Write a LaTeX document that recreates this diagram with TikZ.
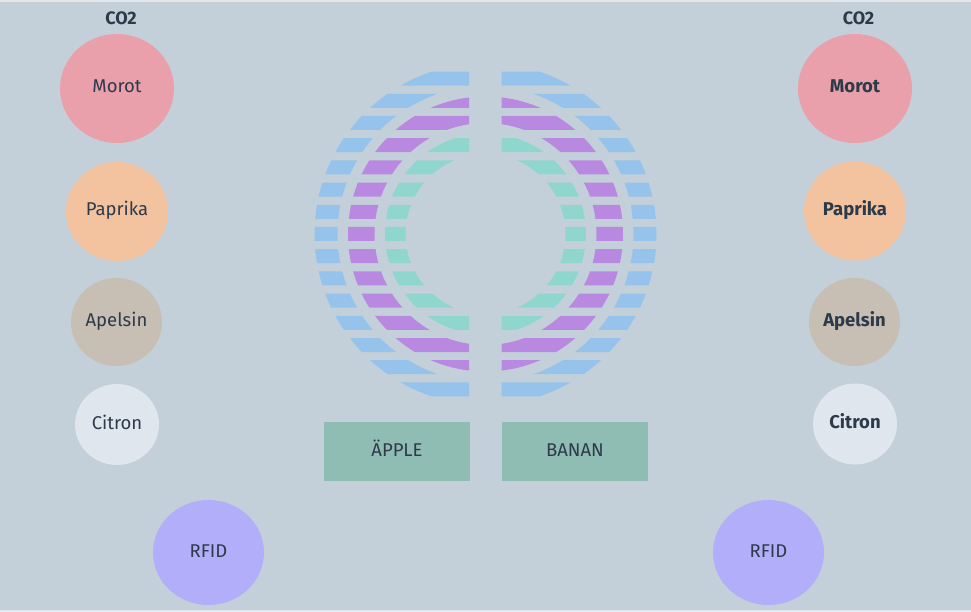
\documentclass[tikz,border=0pt]{standalone}
\usepackage{fontspec}
\setmainfont{Fira Sans}
\usetikzlibrary{shapes.geometric}
\definecolor{bg}{HTML}{C3D0D9}
\definecolor{edge}{HTML}{E3E8ED}
\definecolor{ink}{HTML}{2D3A4A}
\definecolor{ringblue}{HTML}{96C3EB}
\definecolor{ringpurple}{HTML}{B988E0}
\definecolor{ringteal}{HTML}{8FD7CE}
\definecolor{boxgreen}{HTML}{8FBCB3}
\definecolor{morot}{HTML}{E9A0AA}
\definecolor{paprika}{HTML}{F3C29F}
\definecolor{apelsin}{HTML}{C7BFB3}
\definecolor{citron}{HTML}{DFE6EE}
\definecolor{rfid}{HTML}{B3AEFA}
\begin{document}
\begin{tikzpicture}[x=1pt,y=-1pt,
  txt/.style={text=ink, text height=11pt, text depth=2pt, font=\fontsize{18.5}{21}\selectfont},
  blob/.style={ellipse, inner sep=0pt, txt},
  blobb/.style={blob, font=\fontsize{18.5}{21}\selectfont\bfseries},
  lbl/.style={txt, inner sep=0pt, font=\fontsize{18}{21}\selectfont\bfseries},
  fruitbox/.style={fill=boxgreen, minimum width=146pt, minimum height=59pt, inner sep=0pt, txt}]
\useasboundingbox (0,0) rectangle (971,612);
\fill[edge] (0,0) rectangle (971,612);
\fill[bg] (0,2.5) rectangle (971,609.5);
% ring structure
\coordinate (c) at (485.5,234);
\begin{scope}
  \clip \foreach \k in {-7,...,7} { (300,{227+\k*22.2}) rectangle (670,{241+\k*22.2}) };
  \begin{scope}
    \clip (300,60) rectangle (469,410);
    \fill[ringblue, even odd rule] (c) circle (171) (c) circle (148);
    \fill[ringpurple, even odd rule] (c) circle (137.5) (c) circle (111);
    \fill[ringteal, even odd rule] (c) circle (100.5) (c) circle (80);
  \end{scope}
  \begin{scope}
    \clip (501.5,60) rectangle (670,410);
    \fill[ringblue, even odd rule] (c) circle (171) (c) circle (148);
    \fill[ringpurple, even odd rule] (c) circle (137.5) (c) circle (111);
    \fill[ringteal, even odd rule] (c) circle (100.5) (c) circle (80);
  \end{scope}
\end{scope}
% left column
\node[lbl] (co2l) at (121,20) {CO2};
\node[blob, fill=morot, minimum width=114pt, minimum height=109pt] (morotl) at (117,88.5) {Morot};
\node[blob, fill=paprika, minimum width=102pt, minimum height=99pt] (paprikal) at (117,211.5) {Paprika};
\node[blob, fill=apelsin, minimum width=91pt, minimum height=88pt] (apelsinl) at (116.5,322) {Apelsin};
\node[blob, fill=citron, minimum width=84pt, minimum height=81pt] (citronl) at (117,424.5) {Citron};
\node[blob, fill=rfid, minimum width=111pt, minimum height=105pt] (rfidl) at (208.5,552.5) {RFID};
% right column
\node[lbl] (co2r) at (858.5,20) {CO2};
\node[blobb, fill=morot, minimum width=114pt, minimum height=109pt] (morotr) at (855,88.5) {Morot};
\node[blobb, fill=paprika, minimum width=102pt, minimum height=99pt] (paprikar) at (855,211) {Paprika};
\node[blobb, fill=apelsin, minimum width=91pt, minimum height=88pt] (apelsinr) at (854.5,322) {Apelsin};
\node[blobb, fill=citron, minimum width=84pt, minimum height=81pt] (citronr) at (855,424) {Citron};
\node[blob, fill=rfid, minimum width=111pt, minimum height=105pt] (rfidr) at (768.5,552.5) {RFID};
% boxes
\node[fruitbox] (apple) at (397,451.5) {ÄPPLE};
\node[fruitbox] (banan) at (575,451.5) {BANAN};
\end{tikzpicture}
\end{document}
